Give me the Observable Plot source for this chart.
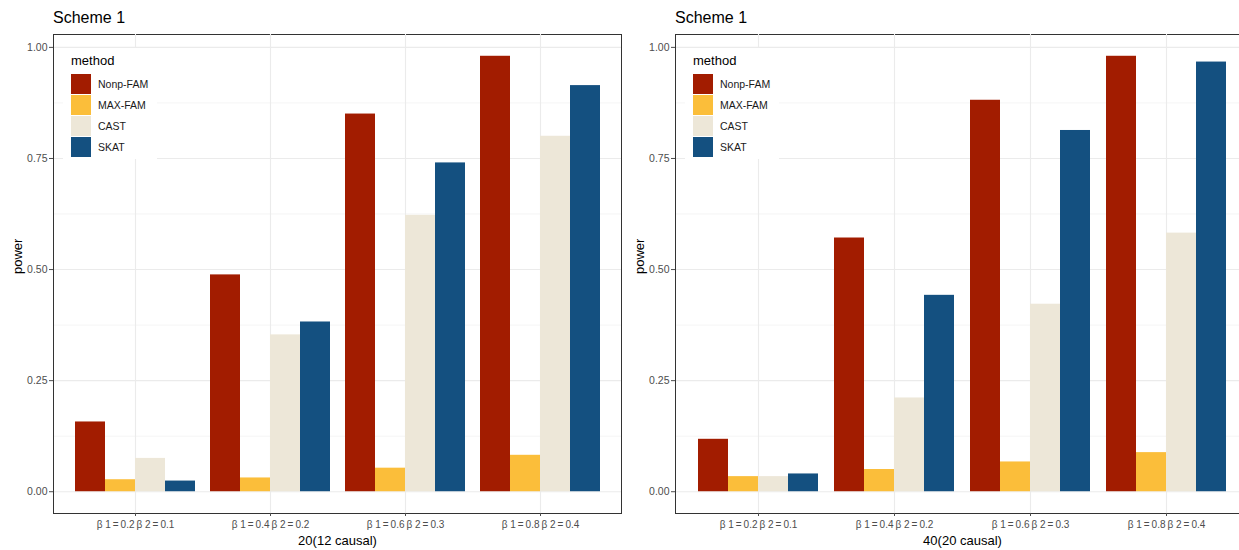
<!DOCTYPE html>
<html>
<head>
<meta charset="utf-8">
<script src="https://cdn.jsdelivr.net/npm/d3@7"></script>
<script src="https://cdn.jsdelivr.net/npm/@observablehq/plot@0.6"></script>
<style>
  html, body { margin: 0; padding: 0; background: #fff; }
  body { width: 1239px; height: 550px; overflow: hidden; position: relative; font-family: "Liberation Sans", Arial, sans-serif; }
  .panel { position: absolute; top: 0; height: 550px; }
  .panel svg { position: absolute; left: 0; top: 0; }
  .title { position: absolute; left: 53px; top: 9px; font-size: 16px; line-height: 18px; color: #000; white-space: nowrap; }
  .legend { position: absolute; left: 63px; top: 48px; width: 94px; height: 111px; background: #fff; }
  .legend .lt { position: absolute; left: 8px; top: 6px; font-size: 13px; line-height: 13px; color: #000; }
  .legend .key { position: absolute; left: 8px; width: 20px; height: 20px; }
  .legend .lab { position: absolute; left: 35px; font-size: 10.5px; line-height: 12px; color: #1a1a1a; white-space: nowrap; }
</style>
</head>
<body>
<script>
// ---- data ----
const categories = [
  "\u03b2 1\u2009=\u20090.2\u2009\u03b2 2\u2009=\u20090.1",
  "\u03b2 1\u2009=\u20090.4\u2009\u03b2 2\u2009=\u20090.2",
  "\u03b2 1\u2009=\u20090.6\u2009\u03b2 2\u2009=\u20090.3",
  "\u03b2 1\u2009=\u20090.8\u2009\u03b2 2\u2009=\u20090.4"
];
const methods = ["Nonp-FAM", "MAX-FAM", "CAST", "SKAT"];
const colors = ["#a21c00", "#fbbe3a", "#ede7d8", "#145080"];
const yTicks = [0, 0.25, 0.5, 0.75, 1];
const yMinor = [0.125, 0.375, 0.625, 0.875];

const leftNonp = [0.157, 0.488, 0.850, 0.980];
const leftMax  = [0.027, 0.031, 0.053, 0.082];
const leftCast = [0.075, 0.353, 0.622, 0.800];
const leftSkat = [0.024, 0.382, 0.740, 0.914];

const rightNonp = [0.118, 0.571, 0.881, 0.980];
const rightMax  = [0.034, 0.050, 0.067, 0.088];
const rightCast = [0.034, 0.211, 0.422, 0.582];
const rightSkat = [0.040, 0.442, 0.813, 0.967];

const panelTitle = "Scheme 1";
const leftXLabel = "20(12 causal)";
const rightXLabel = "40(20 causal)";
const yLabel = "power";
const legendTitle = "method";

function rows(series) {
  return categories.flatMap((c, i) => methods.map((m, j) => ({cat: c, method: m, value: series[j][i]})));
}

function panel(series, xLabel, width, left) {
  const data = rows(series);
  const common = {
    width, height: 550,
    marginLeft: 53, marginRight: 1, marginTop: 34, marginBottom: 37,
    style: {fontFamily: "'Liberation Sans', Arial, sans-serif", background: "transparent", overflow: "visible"},
    y: {domain: [-0.049, 1.029], axis: null}
  };
  // background: horizontal grid, frame, y axis, axis titles
  const back = Plot.plot({
    ...common,
    marks: [
      Plot.ruleY(yMinor, {stroke: "#ececec", strokeWidth: 0.6}),
      Plot.ruleY(yTicks, {stroke: "#ebebeb", strokeWidth: 1.1}),
      Plot.frame({stroke: "#333", strokeWidth: 1}),
      Plot.axisY(yTicks, {anchor: "left", tickSize: 4, tickPadding: 2, tickFormat: ".2f", fontSize: 10.5, color: "#4d4d4d", label: null}),
      Plot.text([yLabel], {frameAnchor: "left", dx: -36, rotate: -90, fontSize: 13, fill: "#000"}),
      Plot.text([xLabel], {frameAnchor: "bottom", dy: 31, fontSize: 13, fill: "#000"})
    ]
  });
  // foreground: faceted dodged bars, vertical grid, category axis
  const front = Plot.plot({
    ...common,
    fx: {domain: categories, paddingInner: 0.1, paddingOuter: 0.15, label: null},
    x: {domain: methods, padding: 0, axis: null},
    color: {domain: methods, range: colors},
    marks: [
      Plot.ruleX([0], {x: null, stroke: "#ebebeb", strokeWidth: 1.1}),
      Plot.barY(data, {fx: "cat", x: "method", y: "value", fill: "method"}),
      Plot.axisFx({anchor: "bottom", tickSize: 3, tickPadding: 4, fontSize: 10, color: "#4d4d4d", label: null})
    ]
  });
  const div = document.createElement("div");
  div.className = "panel";
  div.style.left = left + "px";
  div.style.width = width + "px";
  div.appendChild(back);
  div.appendChild(front);
  const t = document.createElement("div");
  t.className = "title";
  t.textContent = panelTitle;
  div.appendChild(t);
  const lg = document.createElement("div");
  lg.className = "legend";
  const lt = document.createElement("div");
  lt.className = "lt";
  lt.textContent = legendTitle;
  lg.appendChild(lt);
  methods.forEach((m, i) => {
    const k = document.createElement("div");
    k.className = "key";
    k.style.top = (26 + i * 21) + "px";
    k.style.background = colors[i];
    lg.appendChild(k);
    const l = document.createElement("div");
    l.className = "lab";
    l.style.top = (30 + i * 21) + "px";
    l.textContent = m;
    lg.appendChild(l);
  });
  div.appendChild(lg);
  document.body.appendChild(div);
}

panel([leftNonp, leftMax, leftCast, leftSkat], leftXLabel, 622, 0);
panel([rightNonp, rightMax, rightCast, rightSkat], rightXLabel, 628, 622);
</script>
</body>
</html>
